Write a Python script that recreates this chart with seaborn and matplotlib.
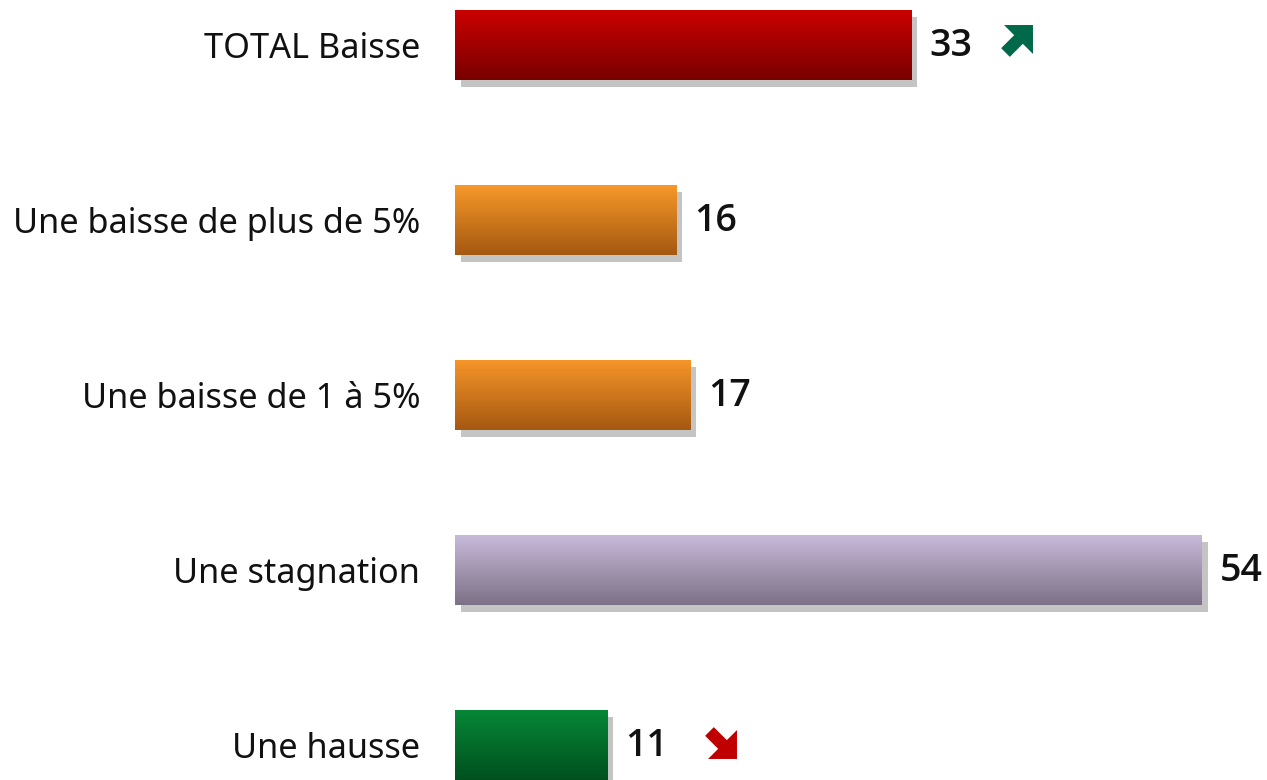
import numpy as np
import pandas as pd
import matplotlib
matplotlib.use("Agg")
import matplotlib.pyplot as plt
import seaborn as sns
from matplotlib.path import Path
from matplotlib.transforms import ScaledTranslation, offset_copy
from matplotlib.colors import LinearSegmentedColormap
from matplotlib.patches import Rectangle

categories = ["TOTAL Baisse", "Une baisse de plus de 5%", "Une baisse de 1 à 5%",
              "Une stagnation", "Une hausse"]
values = [33, 16, 17, 54, 11]
top_colors = ["#cc0000", "#f89a2a", "#f7962a", "#c9bbdb", "#068837"]
bottom_colors = ["#780000", "#a55811", "#a55811", "#7c7186", "#00501e"]
trend = [1, 0, 0, 0, -1]  # 1 = up arrow, -1 = down arrow
trend_colors = {1: "#00694a", -1: "#c00000"}

sns.set_theme(style="white")
plt.rcParams["font.family"] = ["Noto Sans", "DejaVu Sans"]

fig = plt.figure(figsize=(12.67, 7.80), dpi=100)
ax = fig.add_axes([455 / 1267, 0, 1 - 455 / 1267, 1])

df = pd.DataFrame({"cat": categories, "val": values})
sns.barplot(data=df, x="val", y="cat", orient="h", width=0.4, ax=ax,
            color="white", saturation=1, zorder=3)

ax.set_xlim(0, 58.7)
ax.set_ylim(4.2, -0.257)

for i, p in enumerate(ax.patches):
    x0, y0 = p.get_x(), p.get_y()
    w, h = p.get_width(), p.get_height()
    # shadow
    sh_tr = offset_copy(ax.transData, fig=fig, x=6, y=-7, units="dots")
    ax.add_patch(Rectangle((x0, y0), w, h, transform=sh_tr, facecolor="#c4c4c4",
                           edgecolor="none", zorder=1))
    # gradient
    cmap = LinearSegmentedColormap.from_list("g", [top_colors[i], bottom_colors[i]])
    grad = np.linspace(0, 1, 256).reshape(-1, 1)
    im = ax.imshow(grad, cmap=cmap, aspect="auto", extent=(x0, x0 + w, y0 + h, y0),
                   origin="upper", zorder=4)
    im.set_clip_path(p)
    p.set_facecolor("none")
    p.set_edgecolor("none")
    # value
    ax.annotate(str(values[i]), xy=(x0 + w, y0 + h / 2), xytext=(13, -1),
                textcoords="offset points", ha="left", va="center",
                fontsize=27, fontweight="semibold", color="#111111",
                family=["Open Sans", "DejaVu Sans"])

ax.set_xlim(0, 58.7)
ax.set_ylim(4.2, -0.257)


def arrow_path(angle_deg):
    verts = np.array([[-0.9, -0.3], [0.0, -0.3], [0.0, -1.0], [1, 0],
                      [0.0, 1.0], [0.0, 0.3], [-0.9, 0.3], [-0.9, -0.3]])
    a = np.deg2rad(angle_deg)
    R = np.array([[np.cos(a), -np.sin(a)], [np.sin(a), np.cos(a)]])
    v = verts @ R.T
    codes = [Path.MOVETO] + [Path.LINETO] * 6 + [Path.CLOSEPOLY]
    return Path(v, codes)


for i, t in enumerate(trend):
    if t == 0:
        continue
    dx = (77 if t == 1 else 83) / 72
    dy = (4 if t == 1 else 1) / 72
    tr = ax.transData + ScaledTranslation(dx, dy, fig.dpi_scale_trans)
    ax.plot([values[i]], [i], transform=tr, marker=arrow_path(45 if t == 1 else -45),
            markersize=25, color=trend_colors[t], markeredgewidth=0, linestyle="none",
            zorder=5)

ax.set_xlabel("")
ax.set_ylabel("")
ax.set_xticks([])
ax.tick_params(axis="y", length=0, pad=25, labelsize=24.7, labelcolor="#111111")
for s in ax.spines.values():
    s.set_visible(False)
ax.grid(False)

fig.savefig("out.png", dpi=100)
